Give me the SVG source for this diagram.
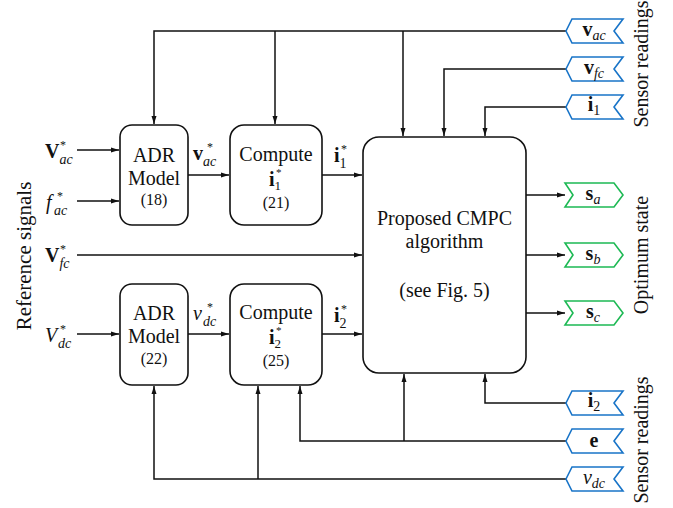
<svg xmlns="http://www.w3.org/2000/svg" width="673" height="508" viewBox="0 0 673 508">
<style>
text{font-family:"Liberation Serif","Times New Roman",serif;fill:#111}
.t{font-size:20px}
.s{font-size:16px}
.sub{font-size:14px;font-style:italic}
.subn{font-size:14px}
.b{font-weight:bold}
.i{font-style:italic}
.st{font-size:12px}
.box{fill:#fff;stroke:#111;stroke-width:1.6}
.c{fill:none;stroke:#111;stroke-width:1.5}
.blue{fill:#fff;stroke:#1874c8;stroke-width:1.6}
.green{fill:#fff;stroke:#1db954;stroke-width:1.6}
.mid{text-anchor:middle}
</style>
<defs>
<marker id="ah" viewBox="0 0 8 6" refX="8" refY="3" markerWidth="8" markerHeight="6" orient="auto" markerUnits="userSpaceOnUse"><path d="M0,0.5 L8,3 L0,5.5 z" fill="#111"/></marker>
</defs>

<g id="connectors">
<polyline class="c" points="566,31 154,31 154,124" marker-end="url(#ah)"/>
<line class="c" x1="275" y1="31" x2="275" y2="124" marker-end="url(#ah)"/>
<line class="c" x1="403" y1="31" x2="403" y2="136" marker-end="url(#ah)"/>
<polyline class="c" points="566,69 444,69 444,136" marker-end="url(#ah)"/>
<polyline class="c" points="566,107 485,107 485,136" marker-end="url(#ah)"/>
<line class="c" x1="77" y1="150" x2="119" y2="150" marker-end="url(#ah)"/>
<line class="c" x1="77" y1="201" x2="119" y2="201" marker-end="url(#ah)"/>
<line class="c" x1="188" y1="175" x2="229" y2="175" marker-end="url(#ah)"/>
<line class="c" x1="322" y1="175" x2="362" y2="175" marker-end="url(#ah)"/>
<line class="c" x1="77" y1="255" x2="362" y2="255" marker-end="url(#ah)"/>
<line class="c" x1="77" y1="334" x2="119" y2="334" marker-end="url(#ah)"/>
<line class="c" x1="188" y1="334" x2="229" y2="334" marker-end="url(#ah)"/>
<line class="c" x1="322" y1="334" x2="362" y2="334" marker-end="url(#ah)"/>
<line class="c" x1="526" y1="195" x2="565" y2="195" marker-end="url(#ah)"/>
<line class="c" x1="526" y1="255" x2="565" y2="255" marker-end="url(#ah)"/>
<line class="c" x1="526" y1="313" x2="565" y2="313" marker-end="url(#ah)"/>
<polyline class="c" points="566,403 485,403 485,374" marker-end="url(#ah)"/>
<polyline class="c" points="566,441 300,441 300,386" marker-end="url(#ah)"/>
<line class="c" x1="404" y1="441" x2="404" y2="374" marker-end="url(#ah)"/>
<polyline class="c" points="566,479 154,479 154,386" marker-end="url(#ah)"/>
<line class="c" x1="258" y1="479" x2="258" y2="386" marker-end="url(#ah)"/>
</g>

<g id="adr1">
<rect class="box" x="120" y="125" width="68" height="100" rx="12"/>
<text class="t mid"><tspan x="154" y="162">ADR</tspan><tspan x="154" y="185">Model</tspan><tspan class="s" x="154" y="205">(18)</tspan></text>
</g>
<g id="compute1">
<rect class="box" x="230" y="125" width="92" height="100" rx="14"/>
<text class="t"><tspan class="mid" x="276" y="161">Compute</tspan><tspan class="b" x="269" y="186">i</tspan><tspan font-size="13" dy="4">1</tspan><tspan font-size="11" x="276" y="175.5">*</tspan><tspan class="s mid" x="276" y="207.5">(21)</tspan></text>
</g>
<g id="adr2">
<rect class="box" x="120" y="284" width="68" height="101" rx="12"/>
<text class="t mid"><tspan x="154" y="320">ADR</tspan><tspan x="154" y="343">Model</tspan><tspan class="s" x="154" y="364">(22)</tspan></text>
</g>
<g id="compute2">
<rect class="box" x="230" y="284" width="92" height="101" rx="14"/>
<text class="t"><tspan class="mid" x="276" y="319">Compute</tspan><tspan class="b" x="269" y="344">i</tspan><tspan font-size="13" dy="4">2</tspan><tspan font-size="11" x="276" y="333.5">*</tspan><tspan class="s mid" x="276" y="365.5">(25)</tspan></text>
</g>
<g id="cmpc">
<rect class="box" x="363" y="137" width="163" height="236" rx="16"/>
<text class="t mid"><tspan x="444.5" y="225">Proposed CMPC</tspan><tspan x="444.5" y="248">algorithm</tspan><tspan x="444.5" y="297">(see Fig. 5)</tspan></text>
</g>

<g id="input-labels">
<text x="45" y="158"><tspan class="t b">V</tspan><tspan class="sub" dy="6">ac</tspan><tspan class="st" x="60" y="148.5">*</tspan></text>
<text x="46" y="209"><tspan class="t i">f</tspan><tspan class="sub" x="54" dy="6">ac</tspan><tspan class="st" x="57" y="199.5">*</tspan></text>
<text x="45" y="262"><tspan class="t b">V</tspan><tspan class="sub" dy="6">fc</tspan><tspan class="st" x="60" y="252.5">*</tspan></text>
<text x="45" y="342"><tspan class="t i">V</tspan><tspan class="sub" x="58" dy="6">dc</tspan><tspan class="st" x="60" y="332.5">*</tspan></text>
<text x="193" y="160"><tspan class="t b">v</tspan><tspan class="sub" dy="6">ac</tspan><tspan class="st" x="207" y="150.5">*</tspan></text>
<text x="193" y="320"><tspan class="t i">v</tspan><tspan class="sub" x="203" dy="6">dc</tspan><tspan class="st" x="207" y="310.5">*</tspan></text>
<text x="334" y="162"><tspan class="t b">i</tspan><tspan class="subn" dy="6">1</tspan><tspan class="st" x="341" y="152.5">*</tspan></text>
<text x="334" y="322"><tspan class="t b">i</tspan><tspan class="subn" dy="6">2</tspan><tspan class="st" x="341" y="312.5">*</tspan></text>
</g>

<g id="tag-vac"><polygon class="blue" points="566,31 572,19 623,19 614,31 623,43 572,43"/><text class="mid" x="594" y="36"><tspan class="t b">v</tspan><tspan class="sub" dy="4">ac</tspan></text></g>
<g id="tag-vfc"><polygon class="blue" points="566,69 572,57 623,57 614,69 623,81 572,81"/><text class="mid" x="594" y="74"><tspan class="t b">v</tspan><tspan class="sub" dy="4">fc</tspan></text></g>
<g id="tag-i1"><polygon class="blue" points="566,107 572,95 623,95 614,107 623,119 572,119"/><text class="mid" x="594" y="111"><tspan class="t b">i</tspan><tspan class="subn" dy="4">1</tspan></text></g>
<g id="tag-sa"><polygon class="green" points="565,183 614,183 623,195 614,207 565,207 573,195"/><text class="mid" x="593" y="200"><tspan class="t b">s</tspan><tspan class="sub" dy="4">a</tspan></text></g>
<g id="tag-sb"><polygon class="green" points="565,243 614,243 623,255 614,267 565,267 573,255"/><text class="mid" x="593" y="260"><tspan class="t b">s</tspan><tspan class="sub" dy="4">b</tspan></text></g>
<g id="tag-sc"><polygon class="green" points="565,301 614,301 623,313 614,325 565,325 573,313"/><text class="mid" x="593" y="318"><tspan class="t b">s</tspan><tspan class="sub" dy="4">c</tspan></text></g>
<g id="tag-i2"><polygon class="blue" points="566,403 572,391 623,391 614,403 623,415 572,415"/><text class="mid" x="594" y="407"><tspan class="t b">i</tspan><tspan class="subn" dy="4">2</tspan></text></g>
<g id="tag-e"><polygon class="blue" points="566,441 572,429 623,429 614,441 623,453 572,453"/><text class="t b mid" x="594" y="447">e</text></g>
<g id="tag-vdc"><polygon class="blue" points="566,479 572,467 623,467 614,479 623,491 572,491"/><text class="mid" x="594" y="484"><tspan class="t i">v</tspan><tspan class="sub" dy="4">dc</tspan></text></g>

<g id="side-labels">
<text class="mid" font-size="21" transform="translate(31,256) rotate(-90)">Reference signals</text>
<text class="t mid" transform="translate(648,64) rotate(-90)">Sensor readings</text>
<text class="t mid" transform="translate(648,255) rotate(-90)">Optimum state</text>
<text class="t mid" transform="translate(648,440) rotate(-90)">Sensor readings</text>
</g>
</svg>
